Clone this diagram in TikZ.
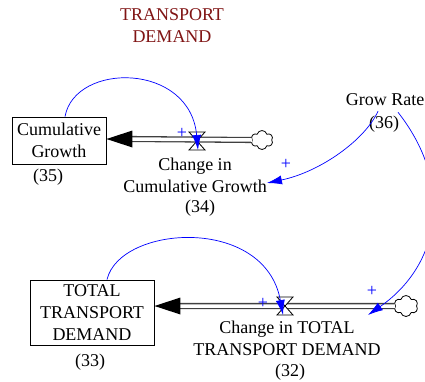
\documentclass[tikz,border=0pt]{standalone}
\usepackage{fontspec}
\setmainfont{Liberation Serif}
\usetikzlibrary{arrows.meta,shapes.symbols}

\tikzset{
  stock/.style={draw, line width=0.9pt, inner sep=0pt, align=center},
  lbl/.style={inner sep=0pt, align=center},
  pipe/.style={draw=black!75, line width=1.3pt, double=white, double distance=3.5pt},
  link/.style={blue, line width=0.7pt, -{Latex[length=15pt,width=9pt]}},
  plus/.style={blue, inner sep=0pt},
  sky/.style={cloud, cloud puffs=6, draw, line width=0.8pt, fill=white,
    minimum width=22pt, minimum height=19pt, inner sep=0pt, aspect=1.2}
}

\begin{document}
\begin{tikzpicture}[x=1pt,y=-1pt,font=\fontsize{18}{22}\selectfont]
  \useasboundingbox (0,0) rectangle (425,381);
  \clip (0,0) rectangle (425,381);

  \node[lbl, text={rgb,255:red,128;green,20;blue,20}] (title) at (172,26) {TRANSPORT\\DEMAND};

  %% stocks
  \node[stock, minimum width=94pt, minimum height=47pt] (cum) at (59,140.5) {Cumulative\\Growth};
  \node[lbl] (cumno) at (48,177) {(35)};
  \node[stock, minimum width=124pt, minimum height=65pt] (tot) at (92,312.5) {TOTAL\\TRANSPORT\\DEMAND};
  \node[lbl] (totno) at (90,362) {(33)};

  %% clouds and valves
  \node[sky] (src1) at (262,140) {};
  \node[sky, minimum width=24pt, minimum height=21pt] (src2) at (406,306) {};
  \coordinate (v1) at (197,139);
  \coordinate (v2) at (285,306);
  \coordinate (tip1) at (cum.east |- v1);
  \coordinate (tip2) at (tot.east |- v2);

  %% rates
  \node[lbl] (dcum) at (195,175) {Change in\\Cumulative Growth};
  \node[lbl] (dcumno) at (200,208) {(34)};
  \node[lbl] (dtot) at (287,338) {Change in TOTAL\\TRANSPORT DEMAND};
  \node[lbl] (dtotno) at (290,372) {(32)};
  \node[lbl] (grow) at (385,100) {Grow Rate};
  \node[lbl] (growno) at (384,124) {(36)};

  %% pipes
  \draw[pipe] (src1.west) -- ([xshift=25pt]tip1);
  \fill (tip1) -- ++(26,-8.5) -- ++(0,17) -- cycle;
  \draw[pipe] (src2.west) -- ([xshift=25pt]tip2);
  \fill (tip2) -- ++(26,-8.5) -- ++(0,17) -- cycle;
  \draw[fill=white, line width=0.8pt] ([shift={(-8,-7)}]v1) -- ++(16,0) -- ++(-16,18) -- ++(16,0) -- cycle;
  \draw[fill=white, line width=0.8pt] ([shift={(-8,-9)}]v2) -- ++(16,0) -- ++(-16,18) -- ++(16,0) -- cycle;

  %% links
  \draw[link] ([xshift=6pt]cum.north) .. controls (75,62) and (190,62) .. ([shift={(1,11)}]v1);
  \draw[link] ([xshift=15pt]tot.north) .. controls (120,225) and (265,215) .. ([shift={(-2,9)}]v2);
  \draw[link] ([shift={(-7,5)}]grow.south) .. controls (365,140) and (320,172) .. (dcum.north east |- 0,183);
  \draw[link] ([shift={(13,6)}]grow.south) .. controls (455,185) and (440,265) .. ([shift={(83,9)}]v2);

  \node[plus] (p1) at (182,133) {+};
  \node[plus] (p2) at (286,164) {+};
  \node[plus] (p3) at (263,303) {+};
  \node[plus] (p4) at (372,291) {+};
\end{tikzpicture}
\end{document}
